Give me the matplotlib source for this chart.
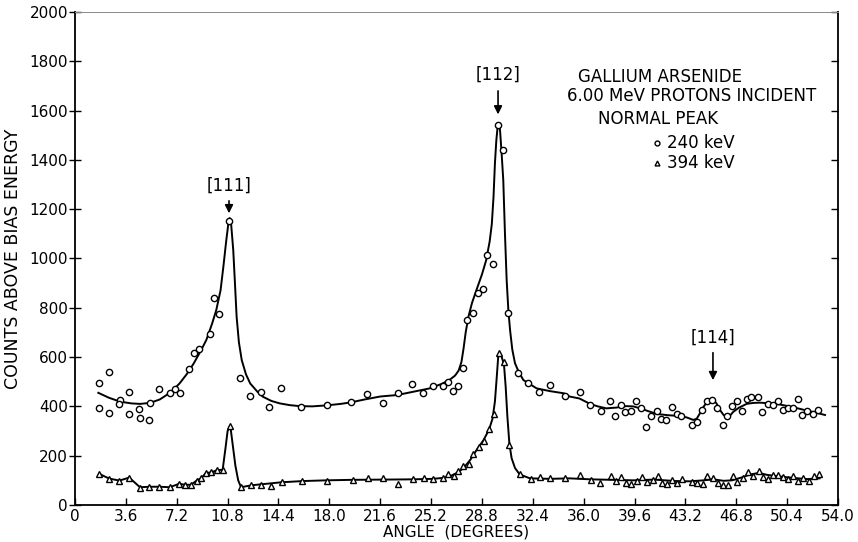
import numpy as np
import matplotlib
matplotlib.use("Agg")
import matplotlib.pyplot as plt

plt.rcParams['font.family'] = ['DejaVu Sans']

# 240 keV (circles) measured points
ang_240 = [1.68, 1.72, 2.41, 2.43, 3.18, 3.14, 3.84, 3.84, 4.55, 4.60, 5.26, 5.31,
           5.97, 6.72, 7.08, 7.43, 8.09, 8.42, 8.75, 9.53, 9.86, 10.21, 10.90,
           11.65, 12.41, 13.14, 13.75, 14.56, 16.02, 17.81,
           19.53, 20.67, 21.78, 22.84, 23.85, 24.63, 25.34, 26.02, 26.40, 26.73,
           27.13, 27.48, 27.77, 28.14, 28.50, 28.87, 29.18, 29.60, 29.91, 30.29,
           30.67, 31.37, 32.08, 32.84, 33.59, 34.66,
           35.74, 36.45, 37.20, 37.89, 38.22, 38.64, 38.92, 39.33, 39.70, 40.08,
           40.41, 40.74, 41.17, 41.49, 41.83, 42.23, 42.58, 42.89, 43.69, 44.00,
           44.35, 44.71, 45.10, 45.46, 45.88, 46.16, 46.52, 46.85, 47.20, 47.53,
           47.86, 48.36, 48.64, 49.02, 49.42, 49.77, 50.13, 50.48, 50.84, 51.19,
           51.47, 51.83, 52.25, 52.60]
cnt_240 = [496, 393, 540, 372, 426, 410, 458, 369, 389, 351, 345, 414,
           469, 455, 469, 453, 550, 615, 632, 693, 838, 773, 1152,
           516, 443, 457, 397, 476, 397, 404,
           416, 451, 415, 453, 492, 453, 481, 481, 500, 461,
           483, 556, 749, 779, 858, 875, 1015, 978, 1542, 1438,
           779, 537, 495, 458, 485, 442,
           459, 404, 383, 422, 362, 404, 377, 381, 423, 393,
           315, 360, 381, 347, 345, 396, 370, 360, 323, 337,
           384, 423, 425, 395, 324, 361, 401, 422, 383, 429,
           437, 437, 377, 408, 407, 423, 387, 393, 393, 431,
           365, 383, 369, 387]

# 240 keV fitted curve
fit_240_x = [1.65, 2.4, 3.2, 4.0, 4.6, 5.3, 6.0, 6.8, 7.4, 7.9, 8.4, 8.9, 9.3,
             9.7, 10.0, 10.3, 10.5, 10.7, 10.85, 10.95, 11.05, 11.2, 11.32, 11.44,
             11.6, 11.8, 12.1, 12.4, 12.9, 13.3, 13.9, 14.5, 15.2, 15.9, 16.8,
             17.8, 18.8, 19.5, 20.5, 21.6, 22.8, 24.0, 25.1, 25.9, 26.5, 26.9,
             27.15, 27.35, 27.5, 27.65, 27.85, 28.1, 28.4, 28.8, 29.1, 29.35,
             29.5, 29.62, 29.72, 29.82, 29.91, 30.0, 30.08, 30.2, 30.31, 30.43,
             30.55, 30.67, 30.79, 30.95, 31.14, 31.4, 31.73, 32.2, 32.67, 33.6,
             34.6, 35.0, 35.7, 36.45, 37.0, 37.6, 38.3, 39.0, 39.5, 40.0, 40.6,
             41.2, 42.0, 42.8, 43.3, 43.76, 44.0, 44.23, 44.5, 44.82, 45.17,
             45.4, 45.65, 45.9, 46.12, 46.35, 46.59, 47.0, 47.53, 48.0, 48.48,
             49.0, 49.66, 50.2, 50.84, 51.3, 51.78, 52.4, 53.08]
fit_240_y = [455, 435, 419, 412, 410, 414, 428, 458, 493, 530, 574, 625, 670,
             735, 791, 870, 966, 1070, 1140, 1164, 1140, 1034, 900, 763,
             660, 588, 530, 493, 460, 439, 422, 412, 405, 401, 400,
             404, 410, 416, 428, 440, 446, 460, 473, 490, 507, 525,
             545, 580, 635, 700, 765, 820, 870, 935, 993, 1070,
             1140, 1250, 1386, 1480, 1534, 1545, 1521, 1420, 1318, 1100,
             912, 790, 710, 630, 575, 540, 507, 490, 473, 462,
             453, 440, 432, 410, 400, 392, 395, 401, 400, 392, 380,
             369, 364, 361, 355, 345, 350, 372, 400, 423, 426,
             412, 385, 365, 358, 362, 378, 395, 410, 414, 415,
             413, 410, 404, 396, 390, 383, 375, 365]

# 394 keV (triangles) measured points
ang_394 = [1.72, 2.43, 3.14, 3.84, 4.60, 5.26, 5.97, 6.72, 7.38, 7.78, 8.21, 8.61,
           8.94, 9.27, 9.65, 10.03, 10.45, 10.99, 11.75, 12.46, 13.19, 13.89,
           14.63, 16.09, 17.81,
           19.65, 20.71, 21.82, 22.86, 23.92, 24.72, 25.34, 26.07, 26.42, 26.82,
           27.13, 27.48, 27.90, 28.14, 28.57, 28.94, 29.28, 29.65, 30.01, 30.36,
           30.74, 31.47, 32.25, 32.91, 33.62, 34.68,
           35.74, 36.49, 37.15, 37.93, 38.29, 38.62, 38.97, 39.35, 39.75, 40.10,
           40.45, 40.88, 41.23, 41.56, 41.87, 42.23, 42.58, 42.94, 43.65, 44.04,
           44.42, 44.75, 45.13, 45.48, 45.84, 46.24, 46.59, 46.87, 47.25, 47.65,
           48.00, 48.38, 48.71, 49.07, 49.42, 49.77, 50.13, 50.48, 50.84, 51.19,
           51.55, 51.95, 52.31, 52.68]
cnt_394 = [126, 107, 99, 111, 69, 74, 74, 72, 86, 82, 82, 99,
           109, 130, 132, 141, 141, 322, 72, 82, 82, 77,
           93, 99, 99,
           100, 108, 109, 85, 105, 108, 105, 108, 126, 118,
           139, 159, 165, 207, 234, 260, 309, 370, 616, 579,
           245, 124, 105, 112, 108, 108,
           120, 100, 88, 119, 96, 115, 89, 84, 99, 115,
           93, 103, 118, 88, 85, 101, 90, 104, 92, 88,
           85, 118, 108, 90, 80, 81, 118, 92, 108, 134,
           119, 138, 112, 104, 120, 120, 112, 105, 116, 99,
           109, 96, 119, 127]

# 394 keV fitted curve
fit_394_x = [1.72, 2.43, 3.14, 3.84, 4.6, 5.3, 6.0, 6.7, 7.38, 7.78, 8.21, 8.61,
             8.94, 9.27, 9.65, 10.03, 10.45, 10.65, 10.8, 10.99, 11.15, 11.35,
             11.55, 11.75, 12.5, 13.2, 14.6, 16.1, 17.8, 19.6, 21.8, 23.9, 25.3,
             26.1, 26.6, 27.1, 27.5, 28.0, 28.5, 28.9, 29.3, 29.55, 29.72, 29.85,
             29.95, 30.05, 30.2, 30.36, 30.48, 30.6, 30.74, 30.9, 31.14, 31.47,
             32.2, 33.6, 35.0, 36.5, 38.0, 39.5, 41.0, 42.5, 43.5, 44.5, 45.2,
             45.9, 46.5, 47.2, 47.8, 48.4, 49.0, 49.8, 50.8, 51.8, 52.7]
fit_394_y = [126, 107, 99, 111, 72, 74, 74, 72, 86, 82, 82, 99,
             109, 130, 132, 141, 143, 230, 300, 322, 250, 160,
             100, 72, 80, 84, 92, 97, 100, 102, 103, 104, 106,
             110, 118, 132, 150, 185, 230, 262, 305, 350, 420, 520,
             600, 615, 600, 570, 480, 360, 250, 190, 150, 124,
             108, 106, 108, 104, 102, 100, 103, 97, 96, 100, 104,
             98, 100, 112, 124, 130, 122, 116, 110, 105, 108]

# axis ticks
x_ticks = [0, 3.6, 7.2, 10.8, 14.4, 18.0, 21.6, 25.2, 28.8, 32.4, 36.0, 39.6,
           43.2, 46.8, 50.4, 54.0]
x_labels = ['0', '3.6', '7.2', '10.8', '14.4', '18.0', '21.6', '25.2', '28.8',
            '32.4', '36.0', '39.6', '43.2', '46.8', '50.4', '54.0']
y_ticks = list(range(0, 2001, 200))

# peak labels: (text, angle, label height, arrow top, arrow tip)
peaks = [('[111]', 10.9, 1294, 1245, 1172),
         ('[112]', 29.94, 1744, 1691, 1573),
         ('[114]', 45.15, 677, 629, 495)]

fig = plt.figure(figsize=(8.58, 5.42), dpi=100)
ax = fig.add_axes([0.0874, 0.0683, 0.8893, 0.9097])

ax.plot(fit_240_x, fit_240_y, 'k-', lw=1.4)
ax.plot(fit_394_x, fit_394_y, 'k-', lw=1.4)
ax.plot(ang_240, cnt_240, 'o', ms=4.5, mfc='white', mec='black', mew=1.0)
ax.plot(ang_394, cnt_394, '^', ms=4.5, mfc='white', mec='black', mew=1.0)

for txt, xa, ly, a0, a1 in peaks:
    ax.text(xa, ly, txt, ha='center', va='center', fontsize=12)
    ax.annotate('', xy=(xa, a1), xytext=(xa, a0),
                arrowprops=dict(arrowstyle='-|>', color='black', lw=1.2,
                                mutation_scale=12))

ax.text(35.6, 1735, 'GALLIUM ARSENIDE', fontsize=12, va='center')
ax.text(34.8, 1658, '6.00 MeV PROTONS INCIDENT', fontsize=12, va='center')
ax.text(37.0, 1565, 'NORMAL PEAK', fontsize=12, va='center')
ax.plot([41.2], [1468], 'o', ms=3.5, mfc='white', mec='black', mew=1.0)
ax.text(41.9, 1468, '240 keV', fontsize=12, va='center')
ax.plot([41.2], [1387], '^', ms=3.5, mfc='white', mec='black', mew=1.0)
ax.text(41.9, 1387, '394 keV', fontsize=12, va='center')

ax.set_xlim(0, 54.0)
ax.set_ylim(0, 2000)
ax.set_xticks(x_ticks)
ax.set_xticklabels(x_labels)
ax.set_yticks(y_ticks)
ax.tick_params(axis='x', direction='in', length=5, width=1.0, labelsize=11,
               pad=3)
ax.tick_params(axis='y', direction='inout', length=8, width=1.0, labelsize=11,
               pad=1)
ax.tick_params(axis='y', which='major', right=True)
ax.spines['top'].set_linewidth(0.7)
ax.spines['top'].set_color('#888888')
for s in ['left', 'right', 'bottom']:
    ax.spines[s].set_linewidth(1.3)
# right-hand ticks point inward only
for t in ax.yaxis.get_major_ticks():
    t.tick2line.set_markersize(5)
    t.tick2line.set_marker(0)

ax.set_xlabel('ANGLE  (DEGREES)', fontsize=11)
ax.set_ylabel('COUNTS ABOVE BIAS ENERGY', fontsize=12.5)
ax.xaxis.set_label_coords(0.5, -0.04)
ax.yaxis.set_label_coords(-0.07, 0.5)

fig.savefig('out.png', dpi=100)
